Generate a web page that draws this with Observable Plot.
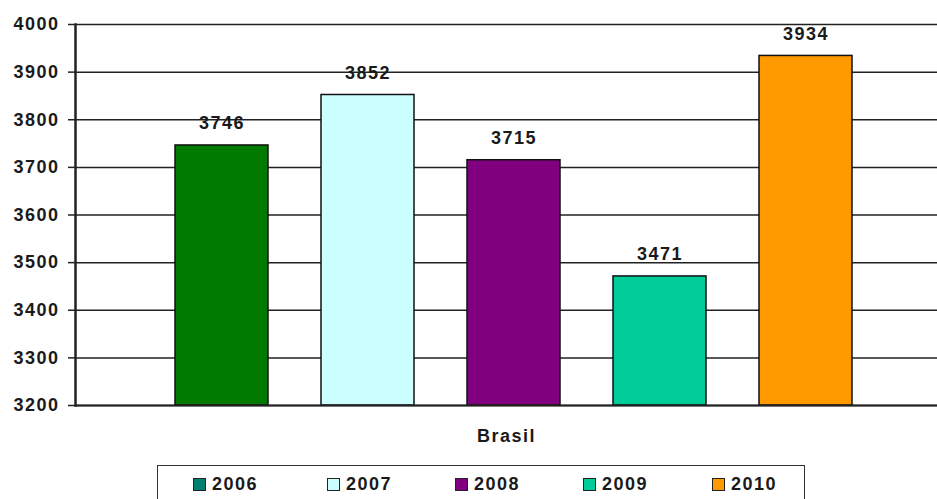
<!DOCTYPE html>
<html>
<head>
<meta charset="utf-8">
<script src="https://cdn.jsdelivr.net/npm/d3@7"></script>
<script src="https://cdn.jsdelivr.net/npm/@observablehq/plot@0.6"></script>
<style>
  html, body { margin: 0; padding: 0; background: #fff; }
  #wrap { position: relative; width: 937px; height: 499px; overflow: hidden; font-family: "Liberation Sans", Arial, sans-serif; }
  #wrap svg text { letter-spacing: 1.5px; }
  #legend {
    position: absolute; left: 157px; top: 465px; width: 648px; height: 50px;
    border: 1.5px solid #333; box-sizing: border-box; background: #fff;
  }
  .item { position: absolute; top: 8px; display: flex; align-items: center; font-weight: bold; font-size: 18px; color: #1a1a1a; letter-spacing: 1.5px; }
  .sw { width: 11px; height: 11px; border: 1px solid #222; margin-right: 6px; }
</style>
</head>
<body>
<div id="wrap"></div>
<script>
const years = ["2006", "2007", "2008", "2009", "2010"];
const values = [3746, 3852, 3715, 3471, 3934];
const barColors = ["#007A00", "#CCFFFF", "#800080", "#00CC99", "#FF9900"];
const swatchColors = ["#00806E", "#CCFFFF", "#800080", "#00CC99", "#FF9900"];
const yTicks = [3200, 3300, 3400, 3500, 3600, 3700, 3800, 3900, 4000];
const categoryLabel = "Brasil";

const data = years.map((y, i) => ({year: y, value: values[i], color: barColors[i]}));

const chart = Plot.plot({
  width: 937,
  height: 460,
  marginLeft: 75,
  marginRight: 0,
  marginTop: 24,
  marginBottom: 55,
  style: {fontFamily: "'Liberation Sans', Arial, sans-serif", color: "#1a1a1a", background: "#fff"},
  x: {domain: years, paddingInner: 0.363, paddingOuter: 0.633, align: 0.54, axis: null},
  y: {domain: [yTicks[0], yTicks[yTicks.length - 1]]},
  marks: [
    Plot.ruleY(yTicks, {stroke: "#222", strokeWidth: 1.5}),
    Plot.barY(data, {x: "year", y1: yTicks[0], y2: "value", fill: "color", stroke: "#111", strokeWidth: 1.5}),
    Plot.text(data, {x: "year", y: "value", text: d => String(d.value), lineAnchor: "bottom", dy: -16, fontSize: 18, fontWeight: "bold", fill: "#1a1a1a"}),
    Plot.axisY({ticks: yTicks, tickSize: 7, tickPadding: 9, fontSize: 18, fontWeight: "bold", tickFormat: d => String(d), label: null, stroke: "#222", strokeWidth: 1.5}),
    Plot.frame({anchor: "left", stroke: "#222", strokeWidth: 2.5}),
    Plot.ruleY([yTicks[0]], {stroke: "#222", strokeWidth: 2}),
    Plot.text([categoryLabel], {frameAnchor: "bottom", dy: 36, fontSize: 18, fontWeight: "bold", fill: "#1a1a1a"})
  ]
});

const wrap = document.getElementById("wrap");
wrap.appendChild(chart);

const legend = document.createElement("div");
legend.id = "legend";
const itemLefts = [35, 169, 297, 425, 554];
years.forEach((y, i) => {
  const it = document.createElement("div");
  it.className = "item";
  it.style.left = itemLefts[i] + "px";
  const sw = document.createElement("span");
  sw.className = "sw";
  sw.style.background = swatchColors[i];
  const t = document.createElement("span");
  t.textContent = y;
  it.appendChild(sw);
  it.appendChild(t);
  legend.appendChild(it);
});
wrap.appendChild(legend);
</script>
</body>
</html>
